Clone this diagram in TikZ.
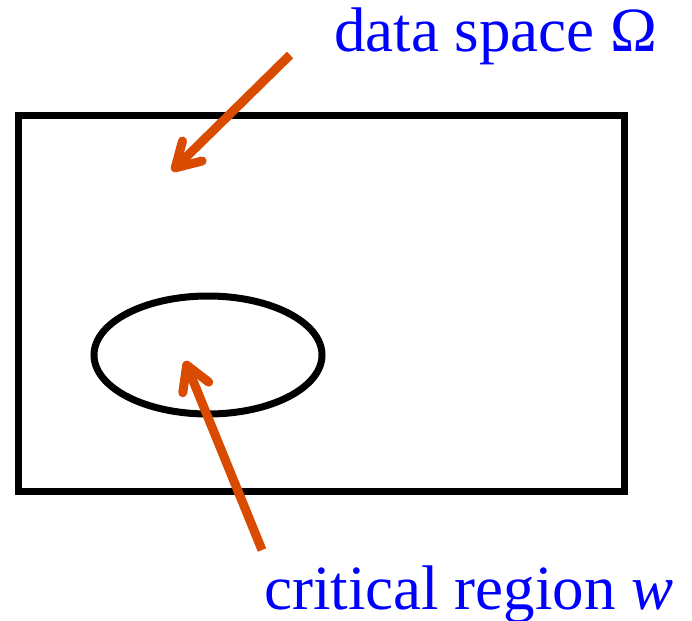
\documentclass[tikz,border=0pt]{standalone}
\usepackage{fontspec}
\setmainfont{Liberation Serif}
\usetikzlibrary{arrows.meta,shapes.geometric}
\definecolor{arrowc}{RGB}{216,75,0}
\definecolor{textc}{RGB}{0,0,255}
\tikzset{
  outline/.style={draw=black,line width=7pt},
  pointer/.style={draw=arrowc,line width=9pt,
    -{Straight Barb[length=24pt,width=28pt,line cap=round,round]}},
  lbl/.style={text=textc,font=\fontsize{63}{70}\selectfont,anchor=base west,inner sep=0pt}
}
\begin{document}
\begin{tikzpicture}[x=1pt,y=1pt]
\useasboundingbox (0,0) rectangle (692,-620);
\node[outline,rectangle,minimum width=606pt,minimum height=375pt,inner sep=0pt] (space) at (321,-303.5) {};
\node[outline,ellipse,minimum width=228pt,minimum height=118pt,inner sep=0pt] (region) at (208,-355) {};
\node[lbl] (lspace) at (334,-52) {data space Ω};
\node[lbl] (lregion) at (264,-609) {critical region \textit{w}};
\coordinate (s1) at (290,-55);
\coordinate (t1) at (172,-171);
\coordinate (s2) at (262,-550);
\coordinate (t2) at (185,-361);
\draw[pointer] (s1) -- (t1);
\draw[pointer] (s2) -- (t2);
\end{tikzpicture}
\end{document}
